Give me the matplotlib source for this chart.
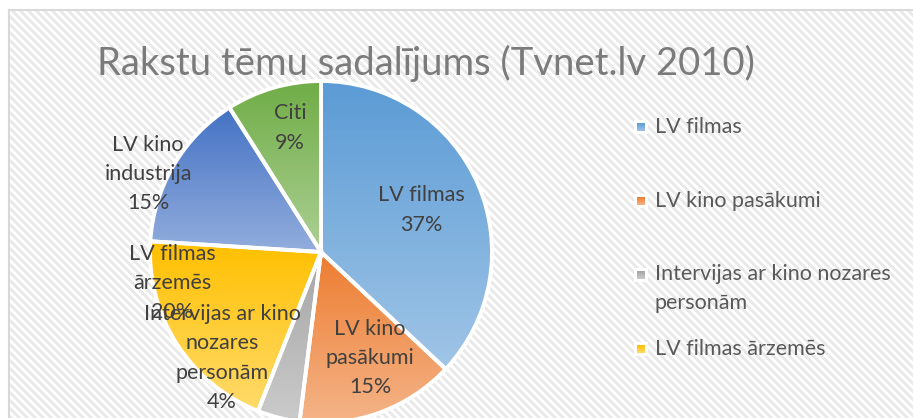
import numpy as np
import matplotlib.pyplot as plt
from matplotlib.colors import to_rgb
from matplotlib.patches import Rectangle

plt.rcParams['font.family'] = ['Lato', 'DejaVu Sans']

# data
categories = ['LV filmas', 'LV kino pasākumi', 'Intervijas ar kino nozares personām',
              'LV filmas ārzemēs', 'LV kino industrija', 'Citi']
shares = [37, 15, 4, 20, 15, 9]
label_text = ['LV filmas', 'LV kino\npasākumi', 'Intervijas ar kino\nnozares\npersonām',
              'LV filmas\nārzemēs', 'LV kino\nindustrija', 'Citi']
legend_text = ['LV filmas', 'LV kino pasākumi', 'Intervijas ar kino nozares\npersonām',
               'LV filmas ārzemēs', 'LV kino industrija', 'Citi']
colors = ['#5B9BD5', '#ED7D31', '#A5A5A5', '#FFC000', '#4472C4', '#70AD47']

# label centres in pixels (x, y from top), excel "best fit" spots
label_pos = [(421, 210), (370, 358), (222, 358), (172, 283), (148, 174), (290, 128)]

W, H = 913, 418
fig = plt.figure(figsize=(W / 100, H / 100), dpi=100)
ax = fig.add_axes([0, 0, 1, 1])
ax.set_xlim(0, W)
ax.set_ylim(0, H)
ax.axis('off')

# hatched chart area background
yy, xx = np.mgrid[0:H, 0:W]
stripe = ((xx - yy) % 8) < 4
bg = np.ones((H, W, 3))
bg[stripe] = 0.915
bg[:, :9] = 1.0
bg[:10, :] = 1.0
ax.imshow(bg, extent=(0, W, 0, H), origin='upper', zorder=0, interpolation='nearest')
ax.plot([9, 9], [0, H - 10], color='#d9d9d9', lw=1.5, zorder=1)
ax.plot([9, W], [H - 10, H - 10], color='#d9d9d9', lw=1.5, zorder=1)


def grad_img(c, n=64):
    top = np.array(to_rgb(c))
    bot = top + (1 - top) * 0.42
    t = np.linspace(0, 1, n)[:, None]
    col = top * (1 - t) + bot * t
    return col[:, None, :]


cx, cy, r = 321, H - 252, 171
wedges, _ = ax.pie(shares, startangle=90, counterclock=False, center=(cx, cy), radius=r,
                   colors=['none'] * len(shares),
                   wedgeprops=dict(edgecolor='white', linewidth=2.8, zorder=3))
ax.set_xlim(0, W)
ax.set_ylim(0, H)
ax.set_aspect('auto')

for w, c in zip(wedges, colors):
    bb = w.get_path().get_extents(w.get_patch_transform())
    im = ax.imshow(grad_img(c), extent=(bb.x0, bb.x1, bb.y0, bb.y1), origin='upper',
                   aspect='auto', zorder=2)
    im.set_clip_path(w)

for txt, s, (px, py) in zip(label_text, shares, label_pos):
    ax.text(px, H - py, f'{txt}\n{s}%', ha='center', va='center', fontsize=15.5,
            color='#404040', linespacing=1.58, zorder=5)

ax.text(426, H - 63, 'Rakstu tēmu sadalījums (Tvnet.lv 2010)', ha='center', va='center',
        fontsize=27.5, color='#7b7b7b', zorder=5)

# legend (only the top entries fit in the picture)
for i, (t, c) in enumerate(zip(legend_text, colors)):
    ly = 127 + i * 74
    if ly > H - 20:
        break
    ax.add_patch(Rectangle((634, H - ly - 7), 14, 14, facecolor='white', edgecolor='none', zorder=4))
    ax.imshow(grad_img(c), extent=(637, 645, H - ly - 4, H - ly + 4), origin='upper',
              aspect='auto', zorder=5)
    ax.text(655, H - ly + 11 if '\n' in t else H - ly, t, ha='left',
            va='top' if '\n' in t else 'center', fontsize=15.5,
            color='#595959', linespacing=1.58, zorder=5)

ax.set_xlim(0, W)
ax.set_ylim(0, H)
fig.savefig('out.png', dpi=100)
